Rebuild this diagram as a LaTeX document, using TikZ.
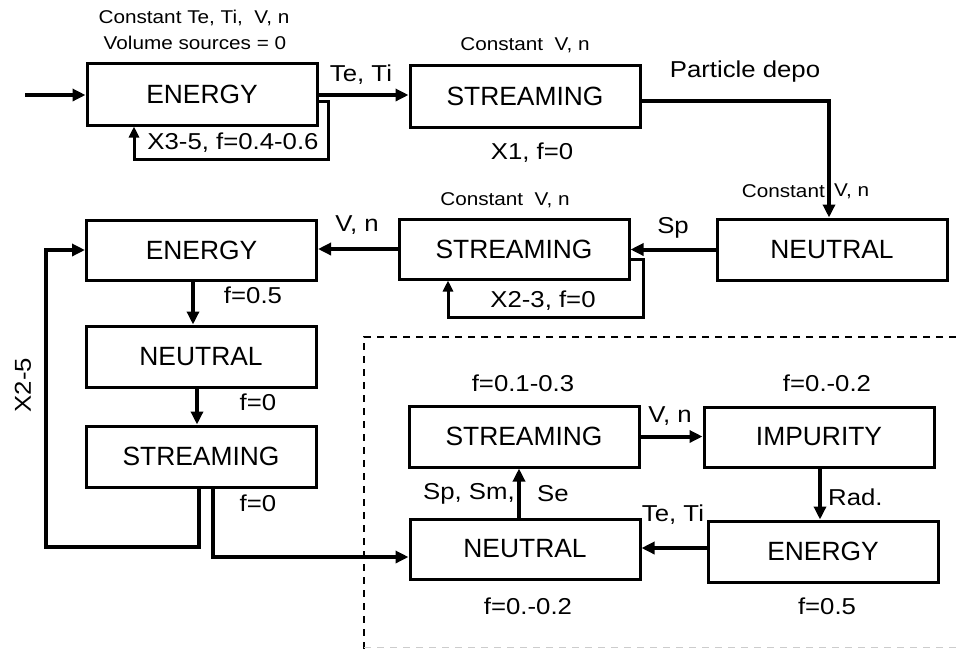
\documentclass[tikz,border=0pt]{standalone}
\usepackage{fontspec}
\setmainfont{Liberation Sans}
\usepackage{graphicx}
\usetikzlibrary{arrows.meta}
\newcommand{\wide}[1]{\scalebox{1.12}[1]{#1}}
\begin{document}
\begin{tikzpicture}[x=1pt,y=-1pt,
  box/.style={draw, line width=3pt, minimum width=230pt, minimum height=61pt, inner sep=0pt,
    font=\fontsize{26.4}{30}\selectfont},
  conn/.style={line width=4pt, -{Triangle[length=13pt,width=12pt]}},
  loopln/.style={line width=3pt, -{Triangle[length=11pt,width=10pt]}},
  plainln/.style={line width=4pt},
  lab/.style={font=\fontsize{23}{26}\selectfont, inner sep=0pt},
  small/.style={font=\fontsize{18.5}{21}\selectfont, inner sep=0pt},
  frame/.style={line width=1.8pt, dash pattern=on 7pt off 6pt}]
\useasboundingbox (0,0) rectangle (956,649);
\fill[white] (0,0) rectangle (956,649);

% boxes
\node[box, minimum height=62pt] (e1) at (202,94) {ENERGY};
\node[box, minimum height=62pt] (s1) at (525,96) {STREAMING};
\node[box] (n1) at (832,249.5) {NEUTRAL};
\node[box, minimum height=60pt] (s2) at (514,249) {STREAMING};
\node[box, minimum height=60pt] (e2) at (201.5,250) {ENERGY};
\node[box] (n2) at (201,356.5) {NEUTRAL};
\node[box] (s3) at (201,456.5) {STREAMING};
\node[box] (s4) at (524,436.5) {STREAMING};
\node[box, minimum height=60pt] (i4) at (819,437) {IMPURITY};
\node[box, minimum height=60pt] (n4) at (525,549) {NEUTRAL};
\node[box] (e4) at (823,551.5) {ENERGY};

% dashed frame
\draw[frame] (956,337) -- (364,337) -- (364,649);
\draw[frame, gray!40] (364,647.5) -- (956,647.5);

% connectors
\coordinate (in) at (25,95);
\draw[conn] (in) -- (in -| e1.west);
\draw[conn] (e1.east |- 0,95) -- (s1.west |- 0,95);
\draw[loopln] (e1.east |- 0,101) -- (328,101) -- (328,159) -- (134,159) -- (134,0 |- e1.south);
\draw[conn] (s1.east |- 0,101) -- (829,101) -- (829,0 |- n1.north);
\draw[conn] (n1.west) -- (n1.west -| s2.east);
\draw[loopln] (s2.east |- 0,259) -- (643,259) -- (643,317) -- (448,317) -- (448,0 |- s2.south);
\draw[conn] (s2.west) -- (s2.west -| e2.east);
\draw[conn] (193,0 |- e2.south) -- (193,0 |- n2.north);
\draw[conn] (197,0 |- n2.south) -- (197,0 |- s3.north);
\draw[conn] (199,0 |- s3.south) -- (199,547) -- (46,547) -- (46,0 |- e2.west) -- (e2.west);
\draw[conn] (213,0 |- s3.south) -- (213,557) -- (n4.west |- 0,557);
\draw[conn] (519,0 |- n4.north) -- (519,0 |- s4.south);
\draw[conn] (s4.east) -- (i4.west |- s4.east);
\draw[conn] (820,0 |- i4.south) -- (820,0 |- e4.north);
\draw[conn] (e4.west |- 0,548) -- (n4.east |- 0,548);

% labels
\node[small] (c1) at (194,18) {\wide{Constant Te, Ti,\ \ V, n}};
\node[small] (c2) at (195,43) {\wide{Volume sources = 0}};
\node[lab] (t1) at (361,75) {\wide{Te, Ti}};
\node[lab] (x35) at (233,143) {\wide{X3-5, f=0.4-0.6}};
\node[small] (c3) at (525,45) {\wide{Constant\ \ V, n}};
\node[lab] (pd) at (745,72) {\wide{Particle depo}};
\node[lab] (x1) at (532,153) {\wide{X1, f=0}};
\node[small, anchor=east] (c4a) at (825,191) {\wide{Constant}};
\node[small, anchor=west] (c4b) at (834,191) {\wide{V, n}};
\node[lab] (sp) at (673,228) {\wide{Sp}};
\node[small] (c5) at (505,200) {\wide{Constant\ \ V, n}};
\node[lab] (vn1) at (357,225) {\wide{V, n}};
\node[lab] (x23) at (543,301) {\wide{X2-3, f=0}};
\node[lab] (f05a) at (253,295) {\wide{f=0.5}};
\node[lab] (f0a) at (258,402) {\wide{f=0}};
\node[lab] (f0b) at (258,503) {\wide{f=0}};
\node[lab, rotate=90] (x25) at (23,385) {\wide{X2-5}};
\node[lab] (f13) at (523,383) {\wide{f=0.1-0.3}};
\node[lab] (f02a) at (827,383) {\wide{f=0.-0.2}};
\node[lab] (vn2) at (670,416) {\wide{V, n}};
\node[lab, anchor=east] (spsm) at (515,494) {\wide{Sp, Sm,}};
\node[lab, anchor=west] (se) at (537,494) {\wide{Se}};
\node[lab] (teti2) at (673,515) {\wide{Te, Ti}};
\node[lab, anchor=west] (rad) at (828,497) {\wide{Rad.}};
\node[lab] (f02b) at (528,606) {\wide{f=0.-0.2}};
\node[lab] (f05b) at (827,606) {\wide{f=0.5}};
\end{tikzpicture}
\end{document}
